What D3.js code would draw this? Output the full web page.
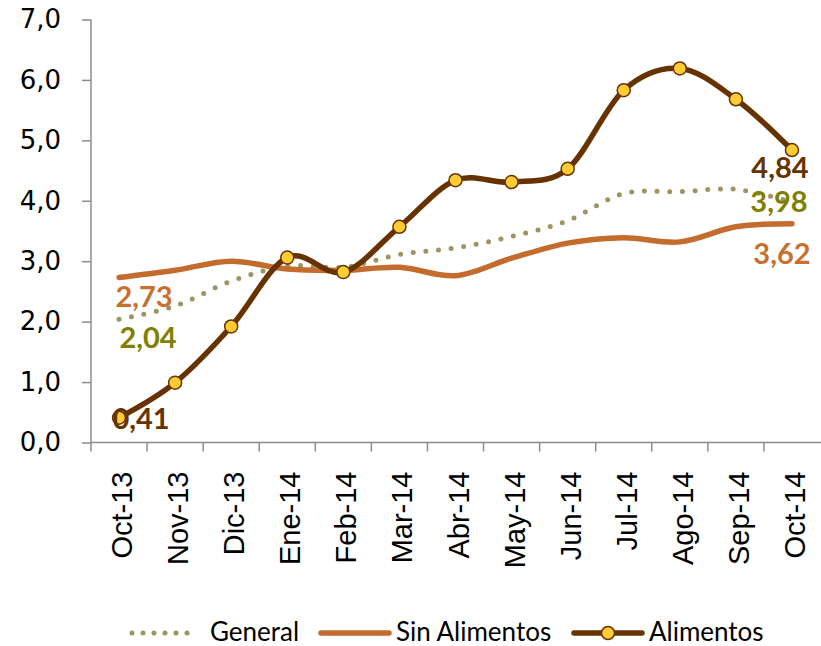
<!DOCTYPE html>
<meta charset="utf-8">
<script src="https://d3js.org/d3.v7.min.js"></script>
<style>
  body { margin: 0; background: #fff; }
</style>
<div id="chart"></div>
<script>

// data
var months = ["Oct-13","Nov-13","Dic-13","Ene-14","Feb-14","Mar-14","Abr-14","May-14","Jun-14","Jul-14","Ago-14","Sep-14","Oct-14"];
var general = [2.04, 2.26, 2.67, 2.92, 2.90, 3.11, 3.22, 3.41, 3.67, 4.12, 4.15, 4.19, 3.98];
var sinAlimentos = [2.73, 2.85, 3.00, 2.87, 2.85, 2.90, 2.76, 3.05, 3.30, 3.39, 3.32, 3.57, 3.62];
var alimentos = [0.41, 0.99, 1.92, 3.06, 2.82, 3.57, 4.34, 4.31, 4.53, 5.83, 6.19, 5.68, 4.84];
var yTicks = [0, 1, 2, 3, 4, 5, 6, 7];
var seriesNames = ["General", "Sin Alimentos", "Alimentos"];

var width = 821, height = 646;

var svg = d3.select("#chart")
  .append("svg")
    .attr("width", width)
    .attr("height", height);

var x = d3.scaleBand()
  .domain(months)
  .range([91, 820]);

var y = d3.scaleLinear()
  .domain([0, 7])
  .range([442.5, 19.5]);

var fmt = function(d) { return d.toFixed(1).replace(".", ","); };
var fmt2 = function(d) { return d.toFixed(2).replace(".", ","); };
var cx = function(i) { return x(months[i]) + x.bandwidth() / 2; };

// Y axis
var yAxis = svg.append("g")
  .attr("transform", "translate(91,0)")
  .call(d3.axisLeft(y).tickValues(yTicks).tickSize(9).tickPadding(21).tickFormat(fmt));
yAxis.selectAll("line, path").attr("stroke", "#8c8c8c").attr("stroke-width", 1.5);
yAxis.select(".domain").attr("d", "M0," + y(7) + "V" + y(0));
yAxis.selectAll("text")
  .attr("fill", "#000")
  .style("font-family", "DejaVu Sans")
  .style("font-size", "26px");

// X axis: ticks on the category boundaries, rotated labels
var xAxis = svg.append("g")
  .attr("transform", "translate(0," + y(0) + ")");
xAxis.append("line")
  .attr("x1", 91).attr("x2", 821)
  .attr("stroke", "#8c8c8c").attr("stroke-width", 1.5);
xAxis.selectAll(".tk")
  .data(months)
  .enter().append("line")
    .attr("class", "tk")
    .attr("x1", function(d) { return x(d); })
    .attr("x2", function(d) { return x(d); })
    .attr("y1", 0).attr("y2", 9)
    .attr("stroke", "#8c8c8c").attr("stroke-width", 1.5);
xAxis.selectAll(".lbl")
  .data(months)
  .enter().append("text")
    .attr("class", "lbl")
    .attr("transform", function(d) { return "translate(" + (x(d) + x.bandwidth() / 2) + ",0) rotate(-90)"; })
    .attr("x", -29)
    .attr("y", 13)
    .style("text-anchor", "end")
    .style("font-family", "Liberation Sans")
    .style("font-size", "29px")
    .text(function(d) { return d; });

var line = d3.line()
  .x(function(d, i) { return cx(i); })
  .y(function(d) { return y(d); })
  .curve(d3.curveCardinal.tension(0));

var colGeneral = "#9c9461", colSin = "#c46c2e", colAli = "#663300", colMarker = "#ffcc33";

// General (dotted)
svg.append("path")
  .datum(general)
  .attr("d", line)
  .attr("fill", "none")
  .attr("stroke", colGeneral)
  .attr("stroke-width", 5)
  .attr("stroke-linecap", "round")
  .attr("stroke-dasharray", "0 12.7");

// Sin Alimentos
svg.append("path")
  .datum(sinAlimentos)
  .attr("d", line)
  .attr("fill", "none")
  .attr("stroke", colSin)
  .attr("stroke-width", 5.5)
  .attr("stroke-linecap", "round");

// Alimentos
svg.append("path")
  .datum(alimentos)
  .attr("d", line)
  .attr("fill", "none")
  .attr("stroke", colAli)
  .attr("stroke-width", 5.5)
  .attr("stroke-linecap", "round");

svg.selectAll(".mk")
  .data(alimentos)
  .enter().append("circle")
    .attr("class", "mk")
    .attr("cx", function(d, i) { return cx(i); })
    .attr("cy", function(d) { return y(d); })
    .attr("r", 6.5)
    .attr("fill", colMarker)
    .attr("stroke", colAli)
    .attr("stroke-width", 1.5);

// data labels at first and last points
var labels = [
  {s: sinAlimentos, i: 0, c: "#c8702f", dx: 25, dy: 29},
  {s: general, i: 0, c: "#808000", dx: 29, dy: 29},
  {s: alimentos, i: 0, c: "#663300", dx: 22, dy: 11.5},
  {s: alimentos, i: 12, c: "#663300", dx: -12, dy: 28},
  {s: general, i: 12, c: "#808000", dx: -13, dy: 10},
  {s: sinAlimentos, i: 12, c: "#c8702f", dx: -10, dy: 40}
];
svg.selectAll(".dl")
  .data(labels)
  .enter().append("text")
    .attr("class", "dl")
    .attr("x", function(d) { return cx(d.i) + d.dx; })
    .attr("y", function(d) { return y(d.s[d.i]) + d.dy; })
    .attr("text-anchor", "middle")
    .attr("fill", function(d) { return d.c; })
    .style("font-family", "Lato")
    .style("font-weight", "bold")
    .style("font-size", "29px")
    .text(function(d) { return fmt2(d.s[d.i]); });

// legend
var leg = svg.append("g").attr("transform", "translate(0,633)");
leg.append("line")
  .attr("x1", 132).attr("x2", 198)
  .attr("stroke", colGeneral).attr("stroke-width", 5)
  .attr("stroke-linecap", "round").attr("stroke-dasharray", "0 11");
leg.append("line")
  .attr("x1", 321).attr("x2", 389)
  .attr("stroke", colSin).attr("stroke-width", 5.5).attr("stroke-linecap", "round");
leg.append("line")
  .attr("x1", 574).attr("x2", 642)
  .attr("stroke", colAli).attr("stroke-width", 5.5).attr("stroke-linecap", "round");
leg.append("circle")
  .attr("cx", 608).attr("cy", 0).attr("r", 6.5)
  .attr("fill", colMarker).attr("stroke", colAli).attr("stroke-width", 1.5);
leg.selectAll(".lt")
  .data(seriesNames)
  .enter().append("text")
    .attr("class", "lt")
    .attr("x", function(d, i) { return [210, 396, 649][i]; })
    .attr("y", 8)
    .style("font-family", "Lato")
    .style("font-size", "26px")
    .text(function(d) { return d; });
</script>
